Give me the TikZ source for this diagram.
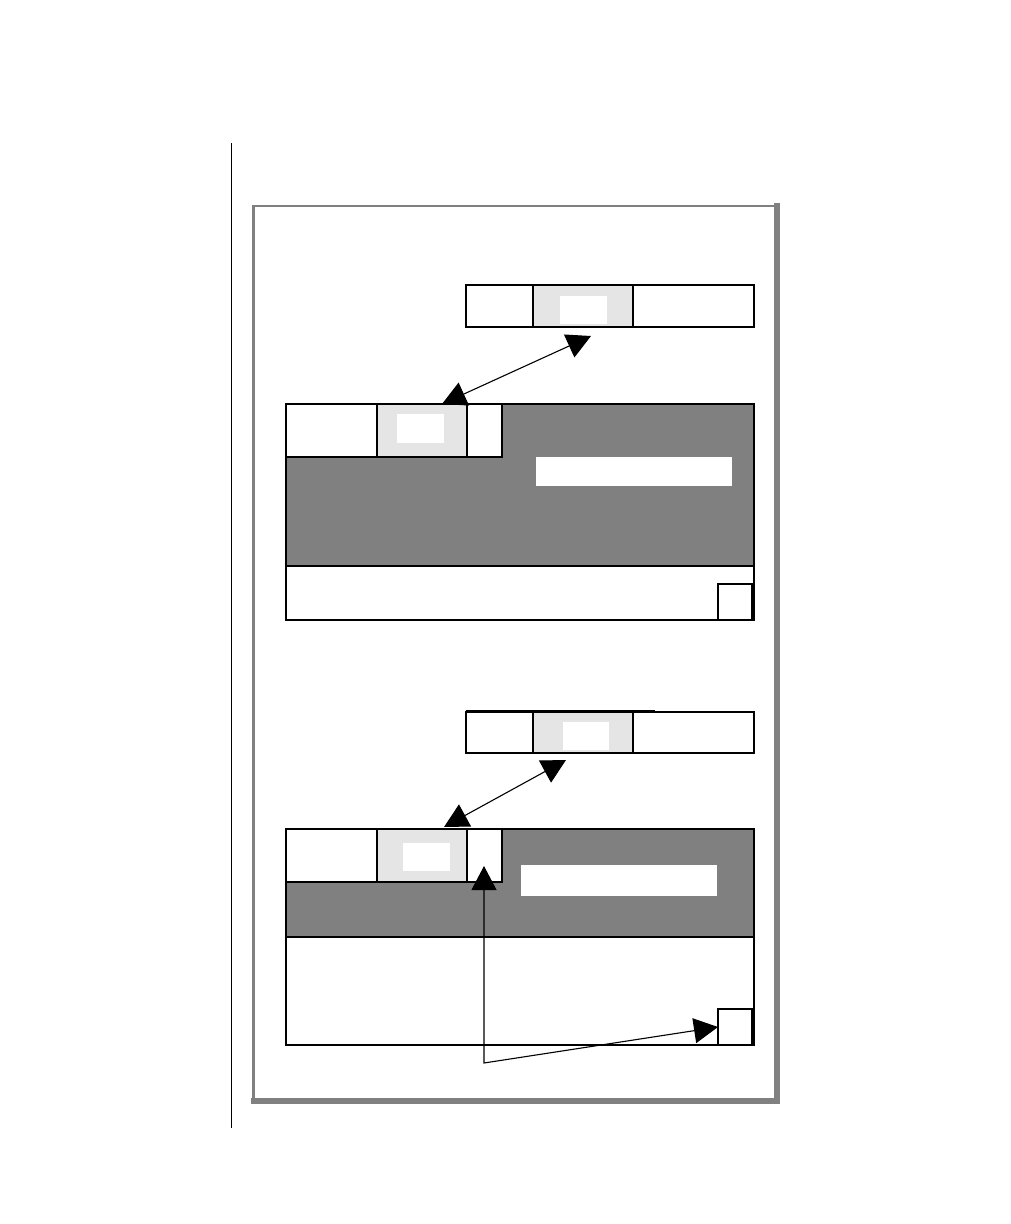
\documentclass[tikz,border=0pt]{standalone}
\usetikzlibrary{arrows.meta,fit}
\definecolor{darkgr}{HTML}{808080}
\definecolor{lightgr}{HTML}{E5E5E5}
\begin{document}
\begin{tikzpicture}[x=1pt,y=-1pt,
  area/.style={inner sep=0pt, outer sep=0pt, fit={#1}},
  outl/.style={draw=black, line width=1.4pt},
  conn/.style={line width=1.1pt, {Triangle[length=24pt,width=25pt]}-{Triangle[length=24pt,width=25pt]}}]
\useasboundingbox (0,0) rectangle (1010,1224);
% margin rule
\draw[line width=1pt] (231,143) -- (231,1128);
% frame
\draw[darkgr, line width=2.5pt] (253.5,1100) -- (253.5,206) -- (777,206);
\draw[darkgr, line width=6pt] (777,203) -- (777,1101) -- (251,1101);

% ---------- upper part ----------
\node[area={(466,285)(754,327)}, outl, fill=white] (s1) {};
\node[area={(533,285)(633,327)}, outl, fill=lightgr] (s1g) {};
\node[area={(560,296)(607,324)}, fill=white] (s1w) {};

\node[area={(286,404)(754,620)}, outl, fill=white] (b1) {};
\node[area={(286,404)(754,566)}, fill=darkgr] (b1d) {};
\draw[outl] (b1d.south west) -- (b1d.south east);
\draw[outl] (b1.north west) rectangle (b1.south east);
\node[area={(286,404)(377,457)}, outl, fill=white] (b1t1) {};
\draw[line width=2.5pt] (b1t1.south west) -- (b1t1.south east);
\node[area={(377,404)(467,457)}, outl, fill=lightgr] (b1t2) {};
\node[area={(397,414)(444,443)}, fill=white] (b1tw) {};
\node[area={(467,404)(502,457)}, outl, fill=white] (b1t3) {};
\node[area={(536,457)(732,486)}, fill=white] (b1s) {};
\node[area={(718,584)(752,620)}, outl, fill=white] (b1q) {};
\draw[line width=3pt] (b1q.north east) -- (b1q.south east);

\coordinate (a1u) at (591,336);
\coordinate (a1l) at (442,404);
\draw[conn] (a1u) -- (a1l);

% ---------- lower part ----------
\node[area={(466,712)(754,753)}, outl, fill=white] (s2) {};
\draw[line width=2.2pt] (466,711.5) -- (655,711.5);
\node[area={(533,712)(633,753)}, outl, fill=lightgr] (s2g) {};
\node[area={(563,722)(609,750)}, fill=white] (s2w) {};

\node[area={(286,829)(754,1045)}, outl, fill=white] (b2) {};
\node[area={(286,829)(754,937)}, fill=darkgr] (b2d) {};
\draw[outl] (b2d.south west) -- (b2d.south east);
\draw[outl] (b2.north west) rectangle (b2.south east);
\node[area={(286,829)(377,882)}, outl, fill=white] (b2t1) {};
\node[area={(377,829)(467,882)}, outl, fill=lightgr] (b2t2) {};
\node[area={(403,843)(450,871)}, fill=white] (b2tw) {};
\node[area={(467,829)(502,882)}, outl, fill=white] (b2t3) {};
\node[area={(521,865)(717,896)}, fill=white] (b2s) {};
\node[area={(718,1009)(752,1045)}, outl, fill=white] (b2q) {};
\draw[line width=3pt] (b2q.north east) -- (b2q.south east);

\coordinate (a2u) at (566,760);
\coordinate (a2l) at (444,827);
\draw[conn] (a2u) -- (a2l);

\coordinate (a3t) at (484,866);
\coordinate (a3c) at (484,1063);
\draw[conn] (a3t) -- (a3c) -- (b2q.west);
\end{tikzpicture}
\end{document}
